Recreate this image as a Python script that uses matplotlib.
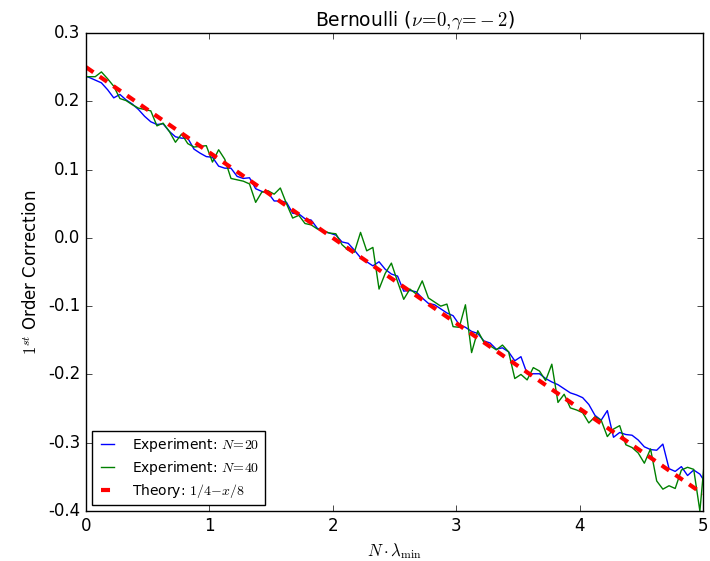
import numpy as np
import matplotlib
matplotlib.use("Agg")
import matplotlib.pyplot as plt

plt.style.use("classic")
plt.rcParams["lines.scale_dashes"] = False

# grid of lambda values (N * lambda_min)
x_exp = np.arange(102) * 0.05 - 0.025

exp_n20 = [
    0.238, 0.235, 0.231, 0.227, 0.217, 0.205, 0.210, 0.202, 0.196, 0.188,
    0.178, 0.170, 0.166, 0.167, 0.156, 0.148, 0.146, 0.146, 0.130, 0.124,
    0.119, 0.118, 0.105, 0.102, 0.102, 0.090, 0.087, 0.088, 0.072, 0.068,
    0.066, 0.054, 0.054, 0.052, 0.036, 0.035, 0.028, 0.026, 0.014, 0.009,
    0.007, 0.004, -0.006, -0.008, -0.018, -0.029, -0.035, -0.041, -0.035, -0.046,
    -0.053, -0.056, -0.078, -0.077, -0.079, -0.088, -0.096, -0.098, -0.104, -0.110,
    -0.114, -0.127, -0.131, -0.137, -0.140, -0.151, -0.154, -0.163, -0.161, -0.167,
    -0.180, -0.174, -0.199, -0.199, -0.199, -0.206, -0.211, -0.215, -0.221, -0.227,
    -0.230, -0.234, -0.244, -0.260, -0.267, -0.253, -0.292, -0.285, -0.288, -0.289,
    -0.296, -0.306, -0.310, -0.311, -0.302, -0.338, -0.342, -0.335, -0.348, -0.340,
    -0.346, -0.360,
]

exp_n40 = [
    0.236, 0.236, 0.236, 0.243, 0.233, 0.222, 0.204, 0.201, 0.195, 0.190,
    0.188, 0.186, 0.164, 0.168, 0.156, 0.140, 0.152, 0.138, 0.133, 0.134,
    0.135, 0.111, 0.129, 0.115, 0.087, 0.085, 0.083, 0.079, 0.052, 0.067,
    0.069, 0.064, 0.073, 0.050, 0.029, 0.033, 0.021, 0.019, 0.013, 0.010,
    0.007, 0.006, -0.010, -0.018, -0.021, 0.008, -0.019, -0.014, -0.075, -0.052,
    -0.037, -0.064, -0.090, -0.075, -0.082, -0.063, -0.088, -0.094, -0.100, -0.097,
    -0.130, -0.131, -0.098, -0.168, -0.136, -0.153, -0.158, -0.164, -0.157, -0.167,
    -0.206, -0.200, -0.208, -0.190, -0.195, -0.209, -0.185, -0.241, -0.229, -0.249,
    -0.252, -0.256, -0.271, -0.262, -0.267, -0.291, -0.280, -0.275, -0.303, -0.307,
    -0.315, -0.330, -0.309, -0.356, -0.368, -0.363, -0.367, -0.340, -0.336, -0.339,
    -0.400, -0.300,
]

theory_x = [0.0, 5.0]
theory_y = [0.25, -0.375]

x_ticks = [0, 1, 2, 3, 4, 5]
y_ticks = [-0.4, -0.3, -0.2, -0.1, 0.0, 0.1, 0.2, 0.3]

fig = plt.figure(figsize=(7.1, 5.61), dpi=100, facecolor="white")
ax = fig.add_axes([0.1211, 0.0891, 0.869, 0.8521])

ax.plot(x_exp, exp_n20, color="b", lw=1.0, label=r"Experiment: $N\!=\!20$")
ax.plot(x_exp, exp_n40, color="g", lw=1.0, label=r"Experiment: $N\!=\!40$")
line, = ax.plot(theory_x, theory_y, color="r", lw=3.0, label=r"Theory: $1/4\!-\!x/8$")
line.set_dashes([6.5, 5.5])

ax.set_xlim(0, 5)
ax.set_ylim(-0.4, 0.3)
ax.set_xticks(x_ticks)
ax.set_yticks(y_ticks)
ax.set_yticklabels([f"{v:.1f}" for v in y_ticks])
ax.tick_params(labelsize=12)

ax.set_title(r"Bernoulli ($\nu\!=\!0,\!\gamma\!=\!-2$)", fontsize=13.5, x=0.533)
ax.set_xlabel(r"$N\cdot\lambda_{\min}$", fontsize=12)
ax.set_ylabel(r"$1^{st}$ Order Correction", fontsize=12)

leg = ax.legend(loc="lower left", fontsize=10, frameon=True, fancybox=False,
                borderaxespad=0.4, handlelength=1.5, handletextpad=1.0,
                labelspacing=0.35, numpoints=2)
leg.get_frame().set_linewidth(1.0)

fig.savefig("out.png", dpi=100, facecolor="white")
